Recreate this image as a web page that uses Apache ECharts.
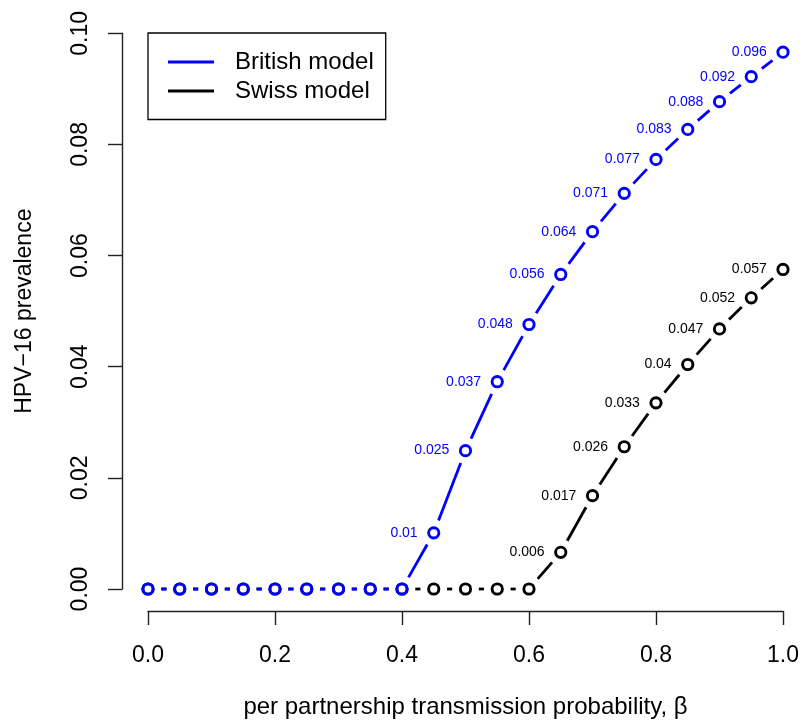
<!DOCTYPE html>
<html>
<head>
<meta charset="utf-8">
<script src="https://cdn.jsdelivr.net/npm/echarts@6/dist/echarts.min.js"></script>
<style>
html,body{margin:0;padding:0;background:#fff;}
#chart{width:804px;height:725px;}
</style>
</head>
<body>
<div id="chart"></div>
<script>
// ---- data ----
const betaValues = [0, 0.05, 0.1, 0.15, 0.2, 0.25, 0.3, 0.35, 0.4, 0.45, 0.5,
                    0.55, 0.6, 0.65, 0.7, 0.75, 0.8, 0.85, 0.9, 0.95, 1.0];
const britishValues = [0, 0, 0, 0, 0, 0, 0, 0, 0, 0.0101, 0.0249,
                       0.0373, 0.0476, 0.0566, 0.0643, 0.0712, 0.0773, 0.0827, 0.0877, 0.0922, 0.0966];
const swissValues = [0, 0, 0, 0, 0, 0, 0, 0, 0, 0, 0,
                     0, 0, 0.0066, 0.0168, 0.0256, 0.0335, 0.0404, 0.0468, 0.0524, 0.0575];
const britishLabels = ['', '', '', '', '', '', '', '', '', '0.01', '0.025',
                       '0.037', '0.048', '0.056', '0.064', '0.071', '0.077', '0.083', '0.088', '0.092', '0.096'];
const swissLabels = ['', '', '', '', '', '', '', '', '', '', '',
                     '', '', '0.006', '0.017', '0.026', '0.033', '0.04', '0.047', '0.052', '0.057'];
const xTicks = [0, 0.2, 0.4, 0.6, 0.8, 1.0];
const yTicks = [0, 0.02, 0.04, 0.06, 0.08, 0.10];

const FONT = "'Liberation Sans', Arial, Helvetica, sans-serif";
const BLUE = '#0000ff';
const BLACK = '#000000';
const GAP = 13.3;

function segments(xs, ys) {
  const out = [];
  for (let i = 0; i < xs.length - 1; i++) out.push([xs[i], ys[i], xs[i + 1], ys[i + 1]]);
  return out;
}
function pts(xs, ys) { return xs.map((x, i) => [x, ys[i]]); }

function segSeries(name, xs, ys, color) {
  return {
    name: name,
    type: 'custom',
    data: segments(xs, ys),
    encode: { x: [0, 2], y: [1, 3] },
    itemStyle: { color: color },
    silent: true,
    renderItem: function (params, api) {
      const p0 = api.coord([api.value(0), api.value(1)]);
      const p1 = api.coord([api.value(2), api.value(3)]);
      const dx = p1[0] - p0[0], dy = p1[1] - p0[1];
      const len = Math.sqrt(dx * dx + dy * dy);
      if (len <= 2 * GAP) return null;
      const ux = dx / len, uy = dy / len;
      return {
        type: 'line',
        shape: { x1: p0[0] + ux * GAP, y1: p0[1] + uy * GAP, x2: p1[0] - ux * GAP, y2: p1[1] - uy * GAP },
        style: { stroke: color, lineWidth: 2.8, lineCap: 'butt' }
      };
    }
  };
}
function pointSeries(name, xs, ys, labels, color) {
  return {
    name: name,
    type: 'scatter',
    data: pts(xs, ys),
    symbol: 'circle',
    symbolSize: 10.3,
    itemStyle: { color: 'rgba(0,0,0,0)', borderColor: color, borderWidth: 2.9, opacity: 1 },
    emphasis: { disabled: true },
    label: {
      show: true,
      position: 'left',
      distance: 9.5,
      fontFamily: FONT,
      fontSize: 14,
      color: color,
      formatter: function (p) { return labels[p.dataIndex]; }
    }
  };
}

const chart = echarts.init(document.getElementById('chart'), null, { renderer: 'canvas' });
chart.setOption({
  animation: false,
  backgroundColor: '#ffffff',
  grid: { left: 148, right: 21, top: 33.3, bottom: 136 },
  legend: {
    left: 148, top: 33,
    orient: 'vertical',
    padding: [17, 12, 16.5, 20],
    itemGap: 5,
    itemWidth: 46,
    itemHeight: 3,
    borderColor: '#000', borderWidth: 1.3,
    selectedMode: false,
    textStyle: { fontFamily: FONT, fontSize: 24, color: '#000', padding: [0, 0, 0, 16] },
    data: [
      { name: 'British model', icon: 'rect', itemStyle: { color: BLUE, borderWidth: 0 } },
      { name: 'Swiss model', icon: 'rect', itemStyle: { color: BLACK, borderWidth: 0 } }
    ]
  },
  xAxis: {
    type: 'value',
    min: 0, max: 1, interval: 0.2,
    offset: 22,
    name: 'per partnership transmission probability, β',
    nameLocation: 'middle',
    nameGap: 84,
    nameTextStyle: { fontFamily: FONT, fontSize: 24, color: '#000' },
    axisLine: { show: true, onZero: false, lineStyle: { color: '#222', width: 1.4 } },
    axisTick: { show: true, inside: false, length: 14, lineStyle: { color: '#222', width: 1.4 } },
    axisLabel: { margin: 33, fontFamily: FONT, fontSize: 23, color: '#000',
                 formatter: v => xTicks.includes(+v.toFixed(2)) ? v.toFixed(1) : '' },
    splitLine: { show: false }
  },
  yAxis: {
    type: 'value',
    min: 0, max: 0.1, interval: 0.02,
    offset: 26,
    name: 'HPV\u221216 prevalence',
    nameLocation: 'middle',
    nameGap: 86,
    nameRotate: 90,
    nameTextStyle: { fontFamily: FONT, fontSize: 23, color: '#000' },
    axisLine: { show: true, onZero: false, lineStyle: { color: '#222', width: 1.4 } },
    axisTick: { show: true, inside: false, length: 14, lineStyle: { color: '#222', width: 1.4 } },
    axisLabel: { rotate: 90, margin: 30, fontFamily: FONT, fontSize: 23, color: '#000',
                 formatter: v => yTicks.includes(+v.toFixed(3)) ? v.toFixed(2) : '' },
    splitLine: { show: false }
  },
  series: [
    segSeries('Swiss model', betaValues, swissValues, BLACK),
    pointSeries('Swiss model', betaValues, swissValues, swissLabels, BLACK),
    segSeries('British model', betaValues, britishValues, BLUE),
    pointSeries('British model', betaValues, britishValues, britishLabels, BLUE)
  ]
});
</script>
</body>
</html>
